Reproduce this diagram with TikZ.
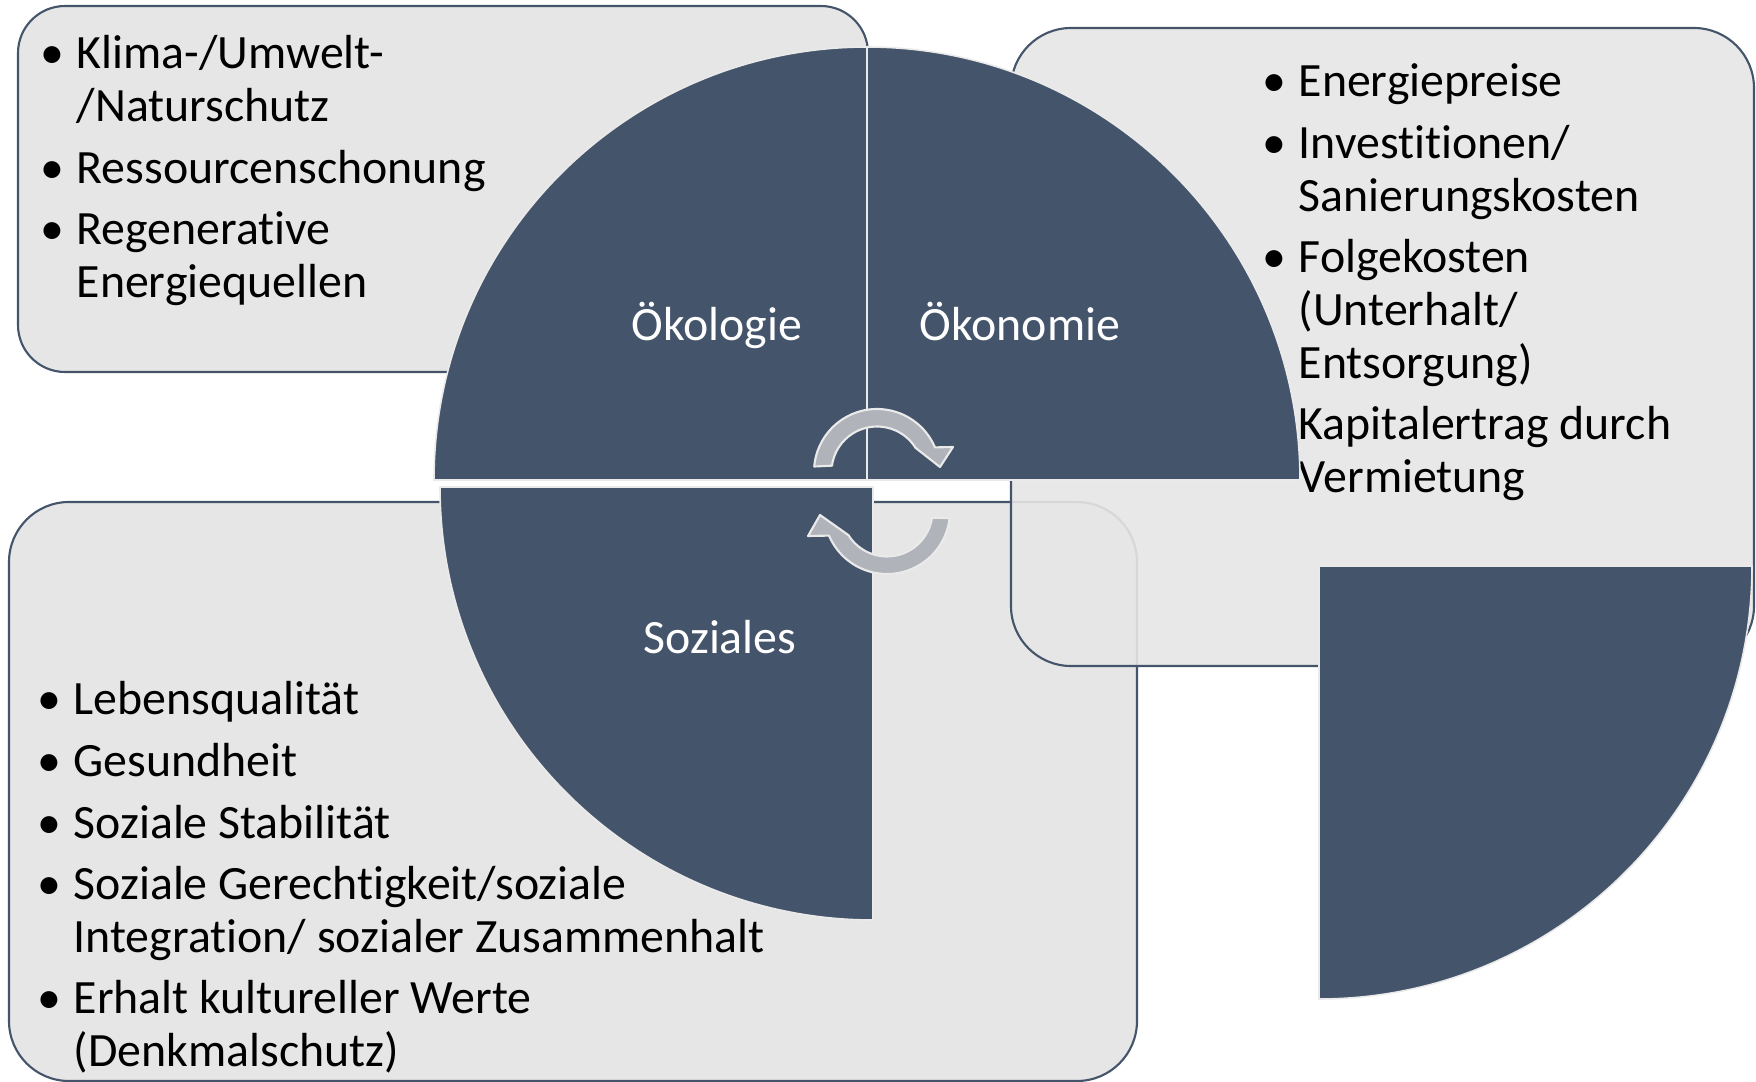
\documentclass[tikz,border=0pt]{standalone}
\usepackage{fontspec}
\setmainfont{Carlito}[Ligatures=NoCommon]
\usepackage{tikz}
\usetikzlibrary{calc}
\definecolor{nhSlate}{RGB}{68,84,106}
\definecolor{nhPanel}{RGB}{231,230,230}
\definecolor{nhArrow}{RGB}{176,179,186}
\definecolor{nhEdge}{RGB}{234,234,234}
\tikzset{
    base/.style={font=\fontsize{13.6}{15}\selectfont},
    panel/.style={draw=nhSlate, line width=0.6pt, fill=nhPanel, rounded corners=0.6cm},
    quarter/.style={fill=nhSlate, draw=nhEdge, line width=0.45pt},
    turn/.style={fill=nhArrow, draw=nhEdge, line width=0.6pt, line join=round},
    points/.style={base, text width=8cm, align=left, inner sep=0pt, anchor=base west, text=black,
                   execute at begin node={\spaceskip=0pt\xspaceskip=0pt}},
    topic/.style={base, text=white, inner sep=0pt, anchor=base}
}
\newcommand{\pbul}{\makebox[3.6mm][l]{\textbullet}}
\newcommand{\pind}{\hspace*{3.6mm}}

\begin{document}
\begin{tikzpicture}[x=0.01cm, y=-0.01cm]
  \useasboundingbox (0,0) rectangle (1756,1082);

  % Panels
  \draw[panel, rounded corners=0.47cm] (18,6) rectangle (868,372);
  \node[points] (oekoList) at (40,69) {
    \pbul Klima-/Umwelt-\\
    \pind/Naturschutz\\[2.5pt]
    \pbul Ressourcenschonung\\[2.5pt]
    \pbul Regenerative\\
    \pind Energiequellen};

  \draw[panel] (9,502) rectangle (1137,1081);
  \node[points] (sozList) at (37,715) {
    \pbul Lebensqualität\\[2.5pt]
    \pbul Gesundheit\\[2.5pt]
    \pbul Soziale Stabilität\\[2.5pt]
    \pbul Soziale Gerechtigkeit/soziale\\
    \pind Integration/ sozialer Zusammenhalt\\[2.5pt]
    \pbul Erhalt kultureller Werte\\
    \pind(Denkmalschutz)};

  \draw[panel, fill opacity=0.9] (1011,28) rectangle (1754,666);
  \node[points] (oekonList) at (1262,97) {
    \pbul Energiepreise\\[2.5pt]
    \pbul Investitionen/\\
    \pind Sanierungskosten\\[2.5pt]
    \pbul Folgekosten\\
    \pind(Unterhalt/\\
    \pind Entsorgung)\\[2.5pt]
    \pind Kapitalertrag durch\\
    \pind Vermietung};

  % Quarters
  \coordinate (mid) at (867,480);
  \coordinate (midSoz) at (873,487);
  \coordinate (midFree) at (1319,566);
  \draw[quarter] (mid) -- ++(-433,0) arc[start angle=180, end angle=270, radius=433] -- cycle;
  \draw[quarter] (mid) -- ++(0,-433) arc[start angle=270, end angle=360, radius=433] -- cycle;
  \draw[quarter] (midSoz) -- ++(-433,0) arc[start angle=180, end angle=90, radius=433] -- cycle;
  \draw[quarter] (midFree) -- ++(433,0) arc[start angle=0, end angle=90, radius=433] -- cycle;

  \node[topic] (oeko) at (717,341) {Ökologie};
  \node[topic] (oekon) at (1020,341) {Ökonomie};
  \node[topic] (soz) at (720,654) {Soziales};

  % Cycle arrows
  \coordinate (c1) at (877,472);
  \coordinate (c2) at (887,511);
  \draw[turn] ($(c1)+(185:63)$) arc[start angle=185, end angle=337, radius=63]
    -- (953,447) -- (940,467) -- ($(c1)+(328:45.5)$)
    arc[start angle=328, end angle=188, radius=45.5] -- cycle;
  \draw[turn] ($(c2)+(6.5:63)$) arc[start angle=6.5, end angle=157, radius=63]
    -- (808,536) -- (820,515) -- ($(c2)+(148:45.5)$)
    arc[start angle=148, end angle=8.5, radius=45.5] -- cycle;
\end{tikzpicture}
\end{document}
